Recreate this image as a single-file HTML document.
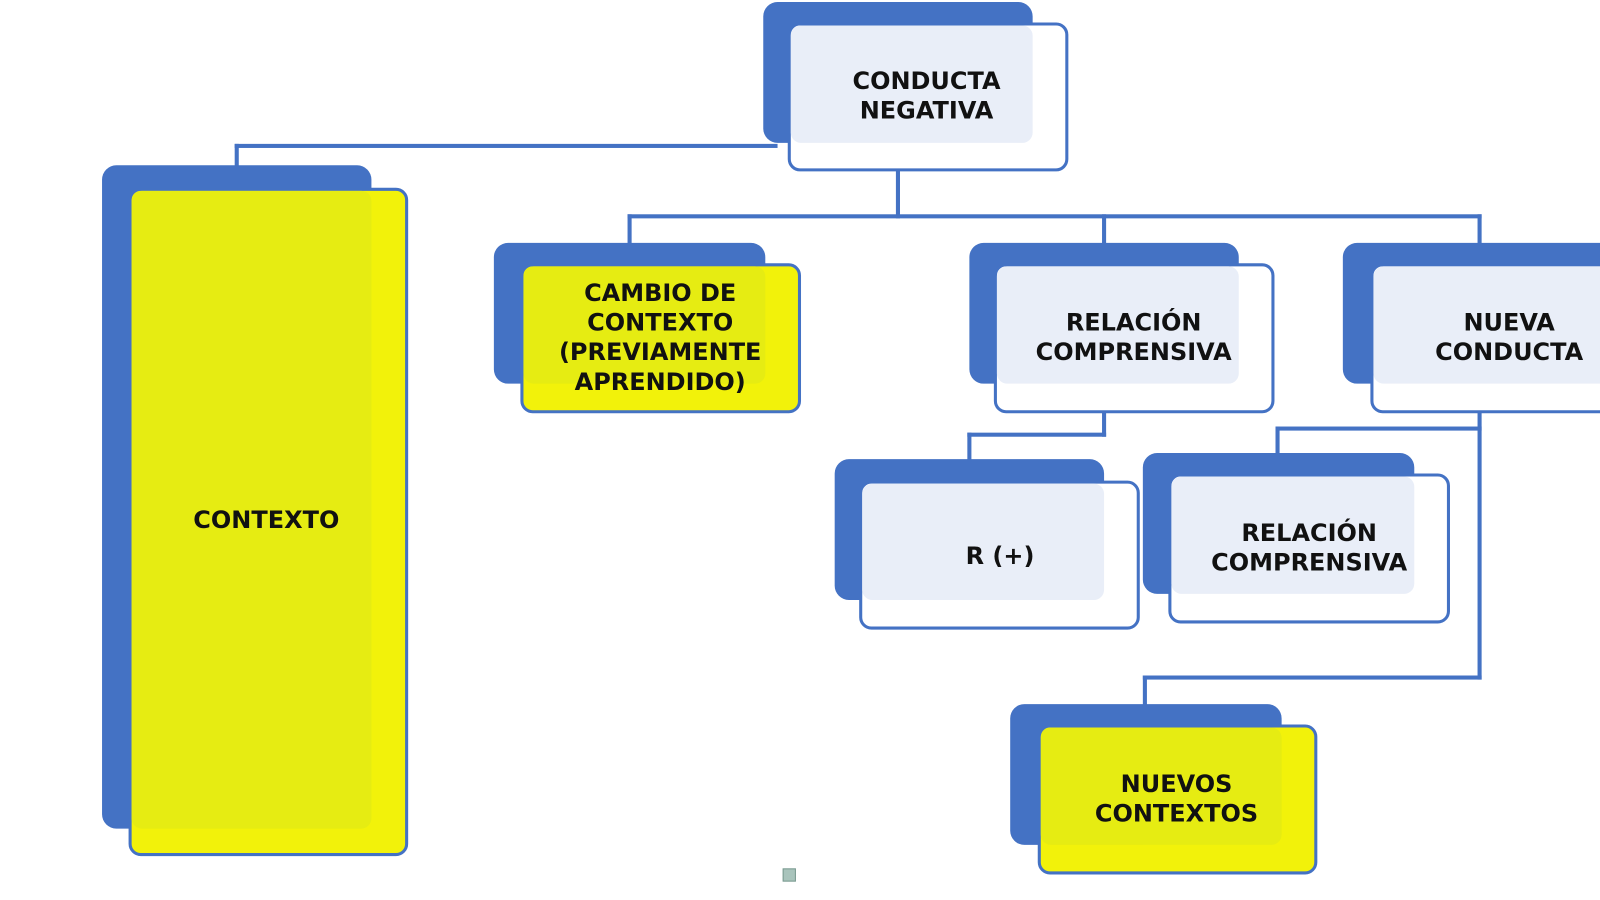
<!DOCTYPE html>
<html><head><meta charset="utf-8"><style>
html,body{margin:0;padding:0;background:#fff;width:1600px;height:900px;overflow:hidden}
#w{position:absolute;left:0;top:0;width:1568px;height:882px;transform:scale(1.0204);transform-origin:0 0}
.b{position:absolute;background:#4472c4;border-radius:14px}
.f{position:absolute;background:#fff;border:3.5px solid #4472c4;border-radius:12px;box-sizing:border-box}
.i{position:absolute;background:#e9eef8;border-radius:10px}
.y{background:#f2f20a}
.iy{background:#e6ec12}
.t{position:absolute;font-family:"DejaVu Sans","Liberation Sans",sans-serif;font-weight:bold;font-size:23.5px;line-height:29px;text-align:center;color:#111;white-space:nowrap;transform:translate(-50%,-50%)}
.l{position:absolute;background:#4472c4}
</style></head><body><div id="w">
<div class="l" style="left:230px;top:141px;width:532px;height:4px"></div>
<div class="l" style="left:230px;top:141px;width:4px;height:22px"></div>
<div class="l" style="left:878px;top:160px;width:4px;height:54px"></div>
<div class="l" style="left:615px;top:210px;width:837px;height:4px"></div>
<div class="l" style="left:615px;top:210px;width:4px;height:30px"></div>
<div class="l" style="left:1080px;top:210px;width:4px;height:30px"></div>
<div class="l" style="left:1448px;top:210px;width:4px;height:30px"></div>
<div class="l" style="left:1080px;top:400px;width:4px;height:28px"></div>
<div class="l" style="left:948px;top:424px;width:136px;height:4px"></div>
<div class="l" style="left:948px;top:424px;width:4px;height:28px"></div>
<div class="l" style="left:1448px;top:400px;width:4px;height:266px"></div>
<div class="l" style="left:1250px;top:418px;width:202px;height:4px"></div>
<div class="l" style="left:1250px;top:418px;width:4px;height:28px"></div>
<div class="l" style="left:1120px;top:662px;width:332px;height:4px"></div>
<div class="l" style="left:1120px;top:662px;width:4px;height:30px"></div>

<div class="b" style="left:748px;top:2px;width:264px;height:138px"></div>
<div class="f" style="left:772px;top:22px;width:275px;height:146px"></div>
<div class="i" style="left:775px;top:25px;width:237px;height:115px"></div>
<div class="t" style="left:908px;top:94px">CONDUCTA<br>NEGATIVA</div>

<div class="b" style="left:100px;top:162px;width:264px;height:650px"></div>
<div class="f y" style="left:126px;top:184px;width:274px;height:655px"></div>
<div class="i iy" style="left:129px;top:187px;width:235px;height:625px"></div>
<div class="t" style="left:261px;top:510px">CONTEXTO</div>

<div class="b" style="left:484px;top:238px;width:266px;height:138px"></div>
<div class="f y" style="left:510px;top:258px;width:275px;height:147px"></div>
<div class="i iy" style="left:513px;top:261px;width:237px;height:115px"></div>
<div class="t" style="left:647px;top:331px">CAMBIO DE<br>CONTEXTO<br>(PREVIAMENTE<br>APRENDIDO)</div>

<div class="b" style="left:950px;top:238px;width:264px;height:138px"></div>
<div class="f" style="left:974px;top:258px;width:275px;height:147px"></div>
<div class="i" style="left:977px;top:261px;width:237px;height:115px"></div>
<div class="t" style="left:1111px;top:331px">RELACIÓN<br>COMPRENSIVA</div>

<div class="b" style="left:1316px;top:238px;width:300px;height:138px"></div>
<div class="f" style="left:1343px;top:258px;width:300px;height:147px"></div>
<div class="i" style="left:1346px;top:261px;width:260px;height:115px"></div>
<div class="t" style="left:1479px;top:331px">NUEVA<br>CONDUCTA</div>

<div class="b" style="left:818px;top:450px;width:264px;height:138px"></div>
<div class="f" style="left:842px;top:471px;width:275px;height:146px"></div>
<div class="i" style="left:845px;top:474px;width:237px;height:114px"></div>
<div class="t" style="left:980px;top:545px">R (+)</div>

<div class="b" style="left:1120px;top:444px;width:266px;height:138px"></div>
<div class="f" style="left:1145px;top:464px;width:276px;height:147px"></div>
<div class="i" style="left:1148px;top:467px;width:238px;height:115px"></div>
<div class="t" style="left:1283px;top:537px">RELACIÓN<br>COMPRENSIVA</div>

<div class="b" style="left:990px;top:690px;width:266px;height:138px"></div>
<div class="f y" style="left:1017px;top:710px;width:274px;height:147px"></div>
<div class="i iy" style="left:1020px;top:713px;width:236px;height:115px"></div>
<div class="t" style="left:1153px;top:783px">NUEVOS<br>CONTEXTOS</div>

<div style="position:absolute;left:767px;top:851px;width:11px;height:11px;background:#a9c4bc;border:1px solid #7a9a90"></div>
</div></body></html>
